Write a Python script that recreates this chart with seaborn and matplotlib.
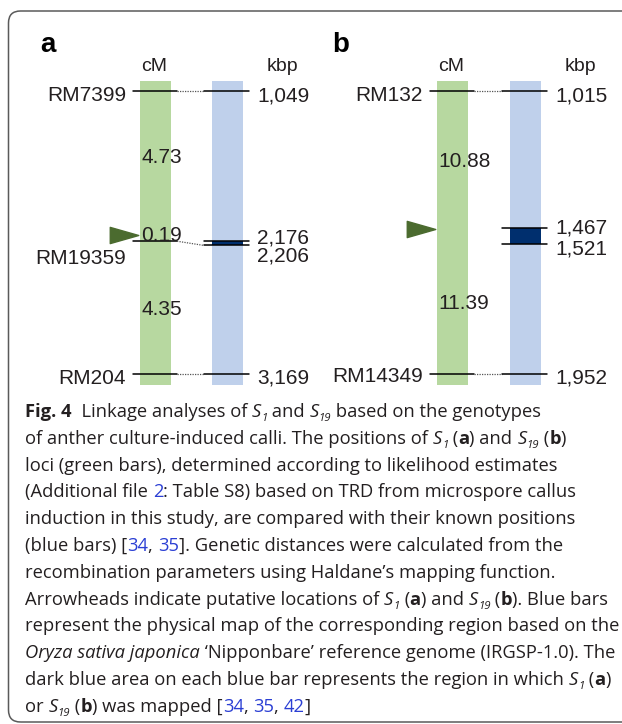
import numpy as np
import matplotlib
matplotlib.use("Agg")
import matplotlib.pyplot as plt
import seaborn as sns
from matplotlib.patches import FancyBboxPatch
from matplotlib.path import Path
from matplotlib.transforms import offset_copy

# ---- data ----
# panel a: RM7399 -4.73- S1 -0.19- RM19359 -4.35- RM204
cm_names_a = ["RM7399", "S1", "RM19359", "RM204"]
cm_dist_a = [4.73, 0.19, 4.35]
kbp_markers_a = [1049, 2206, 3169]      # RM7399, RM19359, RM204
kbp_region_a = [2176, 2206]
# panel b: RM132 -10.88- S19 -11.39- RM14349
cm_names_b = ["RM132", "S19", "RM14349"]
cm_dist_b = [10.88, 11.39]
kbp_markers_b = [1015, 1952]             # RM132, RM14349
kbp_region_b = [1467, 1521]

W, H = 622, 724
GREEN = "#b7d8a0"
BLUE = "#bfd0eb"
NAVY = "#002f6e"
ARROW = "#4b6b2f"
TXT = "#231f20"
LINK = "#2b3fd4"

sns.set_theme(style="white")
plt.rcParams["font.family"] = ["Liberation Sans", "DejaVu Sans"]

fig = plt.figure(figsize=(W / 100, H / 100), dpi=100)
fig.patch.set_facecolor("white")

top_pad, bot_pad = 10 / 283, 11 / 283
arrow_path = Path([(-1, -0.57), (1, 0), (-1, 0.57), (-1, -0.57)],
                  [Path.MOVETO, Path.LINETO, Path.LINETO, Path.CLOSEPOLY])


def draw_panel(ax, names, dists, kbp_markers, kbp_region, gx, bx, nudges):
    bw = 31
    ax.set_xlim(0, 310)
    ax.set_ylim(1 + bot_pad, -top_pad)
    ax.set_axis_off()
    pos = np.concatenate([[0], np.cumsum(dists)]) / np.sum(dists)
    kb0, kb1 = kbp_markers[0], kbp_markers[-1]

    def f(k):
        return (k - kb0) / (kb1 - kb0)

    def off(dy):
        return offset_copy(ax.transData, fig=fig, x=0, y=-dy, units="dots")

    span = 1 + top_pad + bot_pad
    ax.bar([gx + bw / 2], [span], bottom=-top_pad, width=bw, color=GREEN, lw=0)
    ax.bar([bx + bw / 2], [span], bottom=-top_pad, width=bw, color=BLUE, lw=0)
    r0, r1 = f(kbp_region[0]), f(kbp_region[1])
    ax.bar([bx + bw / 2], [r1 - r0], bottom=r0, width=bw, color=NAVY, lw=0)

    # headers
    ax.text(gx + 14, 0, "cM", ha="center", va="baseline", fontsize=14,
            color=TXT, transform=off(-20))
    ax.text(bx + 70.5, 0, "kbp", ha="center", va="baseline", fontsize=14,
            color=TXT, transform=off(-20))

    # markers (non-locus names) with their physical positions
    mk = [i for i, n in enumerate(names) if not n.startswith("S")]
    for j, i in enumerate(mk):
        p = pos[i]
        k = kbp_markers[j]
        ax.plot([gx - 7, gx + 37], [p, p], color="black", lw=1.1)
        ax.plot([gx + 37, bx - 8], [p, f(k)], color="#555555", lw=0.9,
                ls=(0, (1, 1)))
        ax.text(gx - 14, p, names[i], ha="right", va="baseline", fontsize=15,
                color=TXT, transform=off(nudges.get(names[i], 10)))

    for k in sorted(set(kbp_markers) | set(kbp_region)):
        ax.plot([bx - 8, bx + 37], [f(k), f(k)], color="black", lw=1.1)
        ax.text(bx + 45, f(k), f"{k:,}", ha="left", va="baseline",
                fontsize=15, color=TXT, transform=off(nudges.get(k, 10)))

    # interval distances
    for d, y0, y1 in zip(dists, pos[:-1], pos[1:]):
        ax.text(gx + 1.5, (y0 + y1) / 2, f"{d:.2f}", ha="left",
                va="baseline", fontsize=15, color=TXT,
                transform=off(nudges.get(d, 7)))

    # arrowhead at the locus
    loc = [i for i, n in enumerate(names) if n.startswith("S")][0]
    ax.plot([gx - 16], [pos[loc]], marker=arrow_path, ms=20.5, color=ARROW,
            mec=ARROW, clip_on=False)


ax_a = fig.add_axes([0, (H - 385) / H, 310 / W, 304 / H])
ax_b = fig.add_axes([310 / W, (H - 385) / H, 310 / W, 304 / H])
draw_panel(ax_a, cm_names_a, cm_dist_a, kbp_markers_a, kbp_region_a, 140, 212,
           {"RM19359": 23, 2176: 2.5, 2206: 16.5, 0.19: 3, 4.73: 0})
draw_panel(ax_b, cm_names_b, cm_dist_b, kbp_markers_b, kbp_region_b, 127, 200,
           {1467: 6, 1521: 10.5, "RM14349": 8})

fig.text(40 / W, 1 - 52 / H, "a", fontsize=20, weight="bold", color="black")
fig.text(332 / W, 1 - 52 / H, "b", fontsize=20, weight="bold", color="black")

# frame
fig.add_artist(FancyBboxPatch((0.085, 0.02), 7.0, 7.11,
                              boxstyle="round,pad=0,rounding_size=0.12",
                              transform=fig.dpi_scale_trans, fill=False,
                              ec="#5a5a5a", lw=1.1))

# ---- caption (rich text laid out segment by segment) ----
cap_size = 13.2
cap_styles = {
    "r": dict(),
    "b": dict(weight="bold"),
    "i": dict(style="italic"),
    "s": dict(style="italic", size=cap_size * 0.62),
    "l": dict(color=LINK),
}
caption_lines = [
    [("Fig. 4", "b"), ("  Linkage analyses of ", "r"), ("S", "i"), ("1", "s"),
     (" and ", "r"), ("S", "i"), ("19", "s"), (" based on the genotypes", "r")],
    [("of anther culture-induced calli. The positions of ", "r"), ("S", "i"),
     ("1", "s"), (" (", "r"), ("a", "b"), (") and ", "r"), ("S", "i"),
     ("19", "s"), (" (", "r"), ("b", "b"), (")", "r")],
    [("loci (green bars), determined according to likelihood estimates", "r")],
    [("(Additional file ", "r"), ("2", "l"),
     (": Table S8) based on TRD from microspore callus", "r")],
    [("induction in this study, are compared with their known positions", "r")],
    [("(blue bars) [", "r"), ("34", "l"), (", ", "r"), ("35", "l"),
     ("]. Genetic distances were calculated from the", "r")],
    [("recombination parameters using Haldane\u2019s mapping function.", "r")],
    [("Arrowheads indicate putative locations of ", "r"), ("S", "i"),
     ("1", "s"), (" (", "r"), ("a", "b"), (") and ", "r"), ("S", "i"),
     ("19", "s"), (" (", "r"), ("b", "b"), ("). Blue bars", "r")],
    [("represent the physical map of the corresponding region based on the", "r")],
    [("Oryza sativa japonica", "i"),
     (" \u2018Nipponbare\u2019 reference genome (IRGSP-1.0). The", "r")],
    [("dark blue area on each blue bar represents the region in which ", "r"),
     ("S", "i"), ("1", "s"), (" (", "r"), ("a", "b"), (")", "r")],
    [("or ", "r"), ("S", "i"), ("19", "s"), (" (", "r"), ("b", "b"),
     (") was mapped [", "r"), ("34", "l"), (", ", "r"), ("35", "l"),
     (", ", "r"), ("42", "l"), ("]", "r")],
]

renderer = fig.canvas.get_renderer()


def props(style):
    p = dict(family=["Open Sans", "DejaVu Sans"], size=cap_size, color=TXT)
    p.update(cap_styles[style])
    return p


def ink(s, style):
    t = fig.text(0, 0, s, **props(style))
    w = t.get_window_extent(renderer).width
    t.remove()
    return w


def advance(s, style):
    return ink("H" + s + "H", style) - ink("HH", style)


y = 417
for line in caption_lines:
    x = 25
    for seg, style in line:
        dy = 4 if style == "s" else 0
        fig.text(x / W, 1 - (y + dy) / H, seg, va="baseline", ha="left",
                 **props(style))
        x += advance(seg, style)
    y += 26.8

fig.savefig("out.png", dpi=100)
